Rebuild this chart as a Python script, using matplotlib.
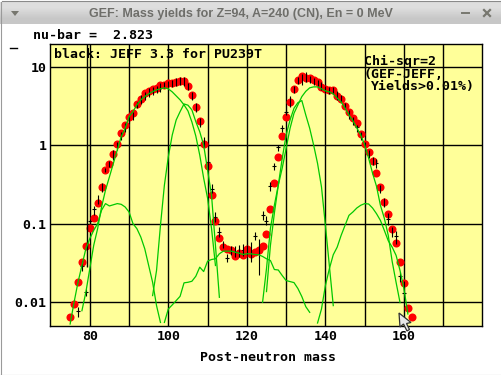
"""GEF mass yields, redrawn with the X11-style window around the plot."""

import numpy as np
import matplotlib
matplotlib.use('Agg')
import matplotlib.pyplot as plt
from matplotlib.patches import Polygon
from matplotlib.lines import Line2D
from matplotlib.transforms import IdentityTransform

W, H = 502, 375

# all yields below are log10(yield in %)
gef_mass = list(range(75, 163))
gef_log = [
    -2.192, -2.026, -1.744, -1.487, -1.282, -1.051, -0.923, -0.731, -0.538, -0.321,
    -0.244, -0.112, 0.013, 0.154, 0.256, 0.359, 0.410, 0.526, 0.590, 0.667,
    0.699, 0.718, 0.738, 0.769, 0.777, 0.795, 0.795, 0.808, 0.821, 0.821,
    0.756, 0.641, 0.487, 0.308, 0.013, -0.269, -0.628, -0.964, -1.179, -1.295,
    -1.329, -1.333, -1.410, -1.381, -1.397, -1.321, -1.394, -1.368, -1.342, -1.282,
    -1.128, -0.808, -0.487, -0.154, 0.115, 0.359, 0.551, 0.718, 0.833, 0.885,
    0.863, 0.854, 0.837, 0.808, 0.744, 0.718, 0.705, 0.705, 0.628, 0.590,
    0.500, 0.423, 0.346, 0.282, 0.141, 0.021, -0.090, -0.205, -0.359, -0.531,
    -0.718, -0.872, -1.064, -1.244, -1.487, -1.756, -2.077, -2.192,
]

# JEFF 3.3 evaluation with error bars, mass 77 to 160
jeff_mass = list(range(77, 161))
jeff_log = [
    -2.115, -1.535, -1.877, -0.971, -0.817, -0.701, -0.535, -0.317, -0.240, -0.124,
    -0.009, 0.119, 0.235, 0.337, 0.388, 0.517, 0.581, 0.645, 0.683, 0.709,
    0.722, 0.747, 0.773, 0.786, 0.792, 0.812, 0.824, 0.818, 0.760, 0.632,
    0.491, 0.299, 0.017, -0.214, -0.560, -0.915, -1.108, -1.278, -1.436, -1.342,
    -1.364, -1.364, -1.342, -1.351, -1.364, -1.163, -1.364, -0.894, -0.967, -0.522,
    -0.265, -0.018, 0.222, 0.427, 0.555, 0.722, 0.837, 0.850, 0.876, 0.850,
    0.824, 0.799, 0.773, 0.722, 0.709, 0.696, 0.645, 0.606, 0.504, 0.401,
    0.324, 0.235, 0.132, 0.004, -0.099, -0.201, -0.227, -0.560, -0.727, -0.945,
    -1.099, -1.163, -1.672, -1.890,
]
jeff_hi = [
    -2.069, -1.483, -1.829, -0.951, -0.774, -0.637, -0.483, -0.291, -0.197, -0.060,
    0.046, 0.174, 0.286, 0.388, 0.431, 0.559, 0.645, 0.687, 0.735, 0.751,
    0.760, 0.799, 0.812, 0.824, 0.837, 0.863, 0.879, 0.876, 0.799, 0.683,
    0.542, 0.350, 0.106, -0.197, -0.496, -0.855, -1.047, -1.223, -1.394, -1.291,
    -1.291, -1.278, -1.265, -1.278, -1.236, -1.108, -1.201, -0.838, -0.906, -0.467,
    -0.227, 0.004, 0.260, 0.453, 0.632, 0.760, 0.876, 0.914, 0.931, 0.888,
    0.863, 0.837, 0.815, 0.760, 0.747, 0.747, 0.700, 0.645, 0.542, 0.453,
    0.367, 0.260, 0.174, 0.046, -0.060, -0.150, -0.176, -0.509, -0.672, -0.868,
    -1.044, -1.099, -1.612, -1.727,
]
jeff_lo = [
    -2.197, -1.599, -1.919, -0.996, -0.894, -0.753, -0.595, -0.342, -0.282, -0.188,
    -0.060, 0.068, 0.174, 0.286, 0.324, 0.478, 0.529, 0.581, 0.623, 0.645,
    0.671, 0.687, 0.735, 0.747, 0.747, 0.760, 0.773, 0.760, 0.709, 0.581,
    0.427, 0.235, -0.022, -0.317, -0.608, -0.979, -1.172, -1.317, -1.492, -1.406,
    -1.432, -1.428, -1.419, -1.406, -1.492, -1.214, -1.650, -0.958, -1.022, -0.582,
    -0.317, -0.069, 0.174, 0.388, 0.495, 0.667, 0.786, 0.773, 0.815, 0.799,
    0.773, 0.760, 0.709, 0.671, 0.658, 0.658, 0.581, 0.559, 0.465, 0.337,
    0.260, 0.174, 0.068, -0.035, -0.163, -0.253, -0.291, -0.612, -0.787, -1.022,
    -1.172, -1.265, -1.749, -1.983,
]

# the one very long error bar near mass 79, runs out of the top of the frame
long_bar_mass = 79.2
long_bar_lo = -1.556
long_bar_hi = 1.31

# green fission-mode curves
mode_a_mass = list(range(75, 99))
mode_a_log = [
    -2.282, -2.005, -1.749, -1.535, -1.321, -1.192, -1.086, -1.000, -0.829, -0.744,
    -0.774, -0.759, -0.744, -0.753, -0.787, -0.851, -1.000, -1.064, -1.172, -1.321,
    -1.535, -1.749, -2.047, -2.262,
]
mode_b_mass = list(range(78, 113))
mode_b_log = [
    -2.112, -1.877, -1.577, -1.278, -1.064, -0.787, -0.573, -0.403, -0.231, -0.060,
    0.110, 0.218, 0.367, 0.431, 0.517, 0.581, 0.623, 0.658, 0.687, 0.709,
    0.722, 0.735, 0.722, 0.683, 0.632, 0.581, 0.517, 0.440, 0.299, 0.119,
    -0.124, -0.419, -0.676, -1.060, -1.535,
]
mode_c_mass = list(range(96, 114))
mode_c_log = [
    -1.919, -1.599, -1.022, -0.509, -0.146, 0.132, 0.324, 0.431, 0.529, 0.513,
    0.453, 0.303, 0.174, 0.004, -0.317, -0.636, -1.278, -1.941,
]
mode_s_mass = list(range(99, 137))
mode_s_log = [
    -2.262, -2.090, -2.038, -1.983, -1.928, -1.756, -1.749, -1.736, -1.672, -1.556,
    -1.612, -1.479, -1.458, -1.449, -1.385, -1.351, -1.351, -1.351, -1.364, -1.377,
    -1.394, -1.385, -1.385, -1.394, -1.397, -1.419, -1.449, -1.471, -1.586, -1.592,
    -1.663, -1.727, -1.740, -1.753, -1.829, -1.932, -2.060, -2.133,
]
mode_d_mass = list(range(124, 143))
mode_d_log = [
    -2.005, -1.573, -1.060, -0.765, -0.509, -0.167, 0.132, 0.324, 0.474, 0.546,
    0.572, 0.388, 0.218, 0.004, -0.231, -0.531, -1.022, -1.535, -2.047,
]
mode_e_mass = list(range(125, 160))
mode_e_log = [
    -1.868, -1.278, -0.868, -0.509, -0.291, -0.038, 0.218, 0.410, 0.517, 0.623,
    0.690, 0.735, 0.747, 0.747, 0.722, 0.696, 0.683, 0.658, 0.603, 0.555,
    0.478, 0.388, 0.315, 0.222, 0.132, 0.004, -0.163, -0.355, -0.521, -0.764,
    -0.931, -1.150, -1.483, -1.751, -2.008,
]
mode_f_mass = list(range(138, 162))
mode_f_log = [
    -2.269, -2.090, -1.791, -1.577, -1.397, -1.300, -1.150, -1.022, -0.894, -0.851,
    -0.800, -0.765, -0.744, -0.749, -0.800, -0.872, -0.958, -1.086, -1.218, -1.300,
    -1.406, -1.599, -1.833, -2.154,
]

x_major = [80, 100, 120, 140, 160]
x_grid = [80, 90, 100, 110, 120, 130, 140, 150, 160, 170]
y_major = [0.01, 0.1, 1, 10]
y_labels = ['0.01', '0.1', '1', '10']

MONO = 'DejaVu Sans Mono'
MONO_SIZE = 9.5
GREEN = '#00c800'


def px_text(fig, x, y, s, **kw):
    """Text placed by pixel position, y counted from the top of the window."""
    kw.setdefault('family', MONO)
    kw.setdefault('fontweight', 'bold')
    kw.setdefault('fontsize', MONO_SIZE)
    kw.setdefault('va', 'center')
    fig.text(x / W, 1 - y / H, s, **kw)


def px_poly(fig, pts, **kw):
    pts = [(x, H - y) for x, y in pts]
    fig.add_artist(Polygon(pts, closed=True, transform=IdentityTransform(), **kw))


def px_line(fig, xs, ys, **kw):
    ys = [H - y for y in ys]
    fig.add_artist(Line2D(xs, ys, transform=IdentityTransform(), **kw))


fig = plt.figure(figsize=(W / 100, H / 100), dpi=100, facecolor='white')

# window title bar
bar = fig.add_axes([0, 1 - 24 / H, 1, 22 / H])
bar.imshow(np.array([[0.87], [0.78]]), cmap='gray', vmin=0, vmax=1,
           aspect='auto', interpolation='bilinear')
bar.axis('off')
px_text(fig, 240.5, 13.5, 'GEF: Mass yields for Z=94, A=240 (CN), En = 0 MeV',
        family='Liberation Sans', fontsize=9.0, color='#6e6e6a', ha='center')
px_poly(fig, [(11, 11), (19, 11), (15, 16)], color='#77776f', lw=0)
px_line(fig, [462, 469], [13, 13], color='#77776f', lw=1.4)
px_line(fig, [484, 490], [10, 16], color='#77776f', lw=1.6)
px_line(fig, [484, 490], [16, 10], color='#77776f', lw=1.6)

# window border
px_line(fig, [0.5, 0.5], [2, 375], color='#9a9a9a', lw=0.8)
px_line(fig, [501.5, 501.5], [2, 375], color='#9a9a9a', lw=0.8)
px_line(fig, [0, 502], [374.5, 374.5], color='#9a9a9a', lw=0.8)
px_line(fig, [2, 500], [1, 1], color='#8a8a8a', lw=0.8)

ax = fig.add_axes([50.5 / W, 1 - 325.5 / H, 432 / W, 282 / H], facecolor='#ffff99')
ax.set_xlim(70, 180)
ax.set_yscale('log')
ax.set_ylim(0.005, 20)

ax.set_xticks(x_major)
ax.set_xticks(x_grid, minor=True)
ax.set_yticks(y_major)
ax.set_yticklabels(y_labels)
ax.yaxis.set_minor_locator(plt.NullLocator())
ax.tick_params(which='both', length=0, pad=3)
for lab in ax.get_xticklabels() + ax.get_yticklabels():
    lab.set_family(MONO)
    lab.set_fontweight('bold')
    lab.set_fontsize(MONO_SIZE)
ax.grid(True, which='both', axis='x', color='black', lw=1.0)
ax.grid(True, which='major', axis='y', color='black', lw=1.0)
ax.set_axisbelow(True)
for sp in ax.spines.values():
    sp.set_linewidth(1.0)

ax.plot(jeff_mass, 10 ** np.array(jeff_log), '_', color='black', ms=3.5, mew=0.8, zorder=2.5)
ax.plot(gef_mass, 10 ** np.array(gef_log), 'o', color='#ff0000', ms=5.8, mew=0, zorder=3)
ax.vlines(jeff_mass, 10 ** np.array(jeff_lo), 10 ** np.array(jeff_hi),
          color='black', lw=0.8, zorder=4)
ax.vlines([long_bar_mass], 10 ** long_bar_lo, 10 ** long_bar_hi, color='black', lw=1.0, zorder=4)

modes = [
    (mode_a_mass, mode_a_log), (mode_b_mass, mode_b_log), (mode_c_mass, mode_c_log),
    (mode_s_mass, mode_s_log), (mode_d_mass, mode_d_log), (mode_e_mass, mode_e_log),
    (mode_f_mass, mode_f_log),
]
for m, y in modes:
    ax.plot(m, 10 ** np.array(y), color=GREEN, lw=0.9, zorder=5)

# texts written by the plotting program
px_text(fig, 33, 35.5, 'nu-bar =  2.823')
px_text(fig, 54, 54.5, 'black: JEFF 3.3 for PU239T', zorder=6)
px_text(fig, 364, 61.5, 'Chi-sqr=2', zorder=6)
px_text(fig, 364, 75, '(GEF-JEFF,', zorder=6)
px_text(fig, 371, 86.5, 'Yields>0.01%)', zorder=6)
px_text(fig, 268, 357.5, 'Post-neutron mass', ha='center')
px_line(fig, [9.5, 16.5], [47.5, 47.5], color='black', lw=1.0)

# mouse pointer left in the screenshot
px_poly(fig, [(399, 313), (400, 327), (403.5, 324), (407, 331), (409.5, 329.5),
              (406.5, 323.5), (411, 322.5)],
        facecolor='#e8e8e8', edgecolor='#303030', lw=0.9, zorder=8)

fig.savefig('out.png', dpi=100)
